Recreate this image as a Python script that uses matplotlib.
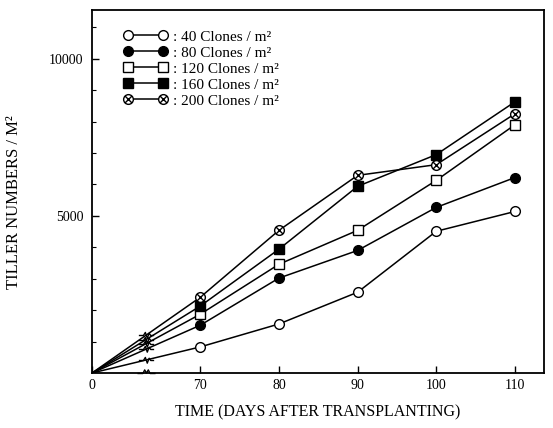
import numpy as np
import matplotlib
matplotlib.use('Agg')
import matplotlib.pyplot as plt
from matplotlib.path import Path

plt.rcParams['font.family'] = ['Liberation Serif', 'DejaVu Serif']

# data
days = [0, 70, 80, 90, 100, 110]
c40 = [0, 830, 1560, 2570, 4510, 5140]
c80 = [0, 1520, 3020, 3900, 5270, 6220]
c120 = [0, 1870, 3460, 4540, 6130, 7900]
c160 = [0, 2130, 3940, 5940, 6950, 8630]
c200 = [0, 2410, 4540, 6290, 6630, 8250]
labels = [': 40 Clones / m²', ': 80 Clones / m²', ': 120 Clones / m²',
          ': 160 Clones / m²', ': 200 Clones / m²']
xticks = [0, 70, 80, 90, 100, 110]

###################################################################################################
# broken x axis: 0-70 squeezed into a short stretch
k = 13.76


def fwd(d):
    d = np.asarray(d, dtype=float)
    return np.where(d < 70, d * k / 70, d - 70 + k)


def inv(p):
    p = np.asarray(p, dtype=float)
    return np.where(p < k, p * 70 / k, p + 70 - k)


# circle with a cross inside
cx = Path.make_compound_path(Path.unit_circle(),
                             Path([(-0.7, -0.7), (0.7, 0.7)]),
                             Path([(-0.7, 0.7), (0.7, -0.7)]))
# little zig-zags for the breaks
zig = Path([(-1, 0), (-0.4, 0), (-0.15, 0.4), (0.1, -0.35), (0.35, 0.3), (0.55, 0), (1, 0)])
bump = Path([(-1, 0), (-0.4, 0), (-0.2, 0.4), (0, 0.05), (0.2, 0.4), (0.4, 0), (1, 0)])

styles = [dict(marker='o', mfc='white'),
          dict(marker='o', mfc='black'),
          dict(marker='s', mfc='white'),
          dict(marker='s', mfc='black'),
          dict(marker=cx, mfc='white')]
series = [c40, c80, c120, c160, c200]

fig = plt.figure(figsize=(5.53, 4.28), dpi=100)
ax = fig.add_axes([0.1664, 0.1285, 0.8174, 0.848])
ax.set_xscale('function', functions=(fwd, inv))

for vals, st, lab in zip(series, styles, labels):
    ax.plot(days, vals, color='black', lw=1.1, marker=st['marker'], ms=7,
            mfc=st['mfc'], mec='black', mew=1.0, markevery=slice(1, None),
            label=lab, zorder=3)

# break marks on each line and on the x axis
brk = 35
ax.plot([brk] * len(series), [v[1] * brk / 70 for v in series], ls='none',
        marker=zig, ms=11, mfc='none', mec='black', mew=1.0, zorder=4)
ax.plot([brk], [0], ls='none', marker=bump, ms=13, mfc='none', mec='black',
        mew=1.0, clip_on=False, zorder=4)

ax.set_xlim(0, 113.7)
ax.set_ylim(0, 11550)
ax.set_xticks(xticks)
ax.set_xticklabels([str(t) for t in xticks])
ax.set_yticks([5000, 10000])
ax.set_yticks(np.arange(1000, 11001, 1000), minor=True)
ax.tick_params(direction='in', length=5, width=1.0, labelsize=10, pad=6)
ax.tick_params(axis='x', pad=4)
ax.tick_params(which='minor', direction='in', length=3, width=0.8)
ax.tick_params(axis='x', which='minor', length=0)
for s in ax.spines.values():
    s.set_linewidth(1.3)

ax.set_xlabel('TIME (DAYS AFTER TRANSPLANTING)', fontsize=11.5, labelpad=9)
ax.set_ylabel('TILLER NUMBERS / M²', fontsize=12)
ax.yaxis.set_label_coords(-0.155, 0.47)

ax.legend(loc='upper left', bbox_to_anchor=(0.07, 0.945), frameon=False,
          numpoints=2, handlelength=2.9, handletextpad=0.35, labelspacing=0.15,
          borderpad=0, borderaxespad=0, fontsize=11)

plt.savefig('out.png', dpi=100)
